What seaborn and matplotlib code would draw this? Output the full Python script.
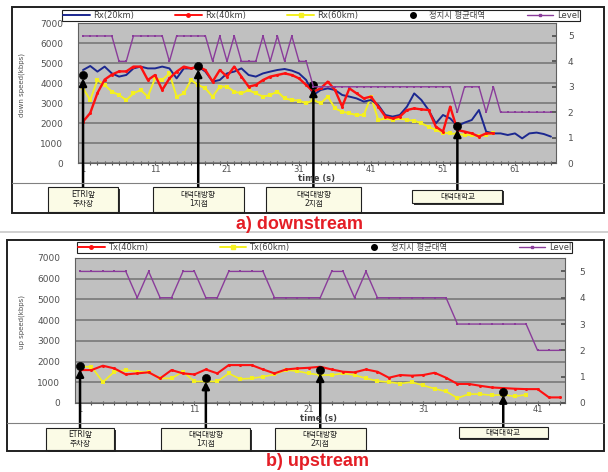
import matplotlib
matplotlib.use("Agg")
import matplotlib.pyplot as plt
import seaborn as sns
import pandas as pd
from matplotlib.patches import Rectangle
from matplotlib.lines import Line2D

# ---------------- downstream (kbps) ----------------
rx20 = [4650, 4850, 4570, 4820, 4480, 4320, 4400, 4730, 4820, 4730, 4730, 4820,
        4730, 4230, 4730, 4730, 4820, 4570, 4070, 4150, 4480, 4570, 4730, 4400,
        4320, 4480, 4570, 4650, 4700, 4620, 4480, 4150,
        3400, 3650, 3730, 3650, 3400, 3320, 3230, 3070, 3150, 2900, 2400, 2320,
        2400, 2820, 3480, 3150, 2650, 1980, 2400, 2230, 1850, 2020, 2150, 2650,
        1570, 1480, 1480, 1400, 1480, 1230, 1480, 1520, 1450, 1320]
rx40 = [2070, 2500, 3500, 4170, 4420, 4580, 4580, 4820, 4820, 4150, 4400, 3650,
        4230, 4570, 4820, 4730, 4820, 4650, 4070, 4650, 4320, 4820, 4320, 3820,
        3900, 4150, 4320, 4400, 4480, 4400, 4230, 3900,
        3570, 3730, 4070, 3650, 2820, 3730, 3480, 3230, 3320, 2820, 2320, 2230,
        2320, 2650, 2730, 2680, 2650, 1820, 1570, 2820, 1650, 1570, 1480, 1320,
        1480, 1480]
rx60 = [3730, 3150, 4150, 3900, 3570, 3400, 3150, 3480, 3650, 3320, 4230, 4150,
        4480, 3320, 3480, 4150, 3900, 3730, 3320, 3820, 3820, 3570, 3480, 3650,
        3480, 3320, 3400, 3570, 3230, 3150, 3120, 2980,
        3150, 2980, 3320, 2730, 2570, 2480, 2400, 2400, 3320, 2150, 2230, 2150,
        2230, 2150, 2120, 1980, 1820, 1650, 1520, 1480, 1450, 1400, 1400, 1350,
        1400, 1480]
level_down = [5, 5, 5, 5, 5, 4, 4, 5, 5, 5, 5, 5, 4, 5, 5, 5, 5, 5, 4, 5, 4, 5,
              4, 4, 4, 5, 4, 5, 4, 5, 4, 4] + [3] * 20 + [2, 3, 3, 3, 2, 3] + [2] * 8
stop_t_down = [1, 17, 33, 53]
stop_v_down = [4400, 4850, 3900, 1850]

# ---------------- upstream (kbps) ----------------
tx40 = [1590, 1590, 1800, 1670, 1380, 1430, 1480, 1190, 1590, 1430, 1380, 1620,
        1430, 1830, 1830, 1830, 1620, 1430, 1620, 1670, 1700,
        1750, 1620, 1510, 1480, 1620, 1510, 1220, 1350, 1320, 1350, 1460, 1220,
        920, 920, 830, 750, 720, 690, 670, 670, 270, 270]
tx60 = [1750, 1750, 1010, 1510, 1590, 1510, 1480, 1190, 1190, 1510, 1040, 1040,
        1040, 1430, 1160, 1190, 1270, 1380, 1590, 1540, 1430,
        1350, 1350, 1430, 1350, 1190, 1060, 1010, 940, 1010, 850, 690, 560,
        240, 430, 430, 370, 400, 320, 400]
level_up = [5, 5, 5, 5, 5, 4, 5, 4, 4, 5, 5, 4, 4, 5, 5, 5, 5, 4, 4, 4, 4, 4,
            5, 5, 4, 5] + [4] * 7 + [3] * 7 + [2] * 3
stop_t_up = [1, 12, 22, 38]
stop_v_up = [1800, 1200, 1600, 550]

stop_names = ["ETRI앞\n주차장", "대덕대방향\n1지점", "대덕대방향\n2지점", "대덕대학교"]
stop_label = "정지시 평균대역"

sns.set_theme(style="white")
plt.rcParams["font.family"] = ["DejaVu Sans", "Noto Sans CJK KR"]

W, H = 608, 472
fig = plt.figure(figsize=(W / 100, H / 100), dpi=100)


def fx(px):
    return px / W


def fy(py):
    return 1 - py / H


TICK_C = "#505050"
C20, C40, C60, CLV = "#1c2890", "#ff1010", "#f4f020", "#8a3c9a"


def setup_axes(ax, ax2, n_cat, xlim, xticks, pad_l, pad_r):
    ax.set_facecolor("#c0c0c0")
    ax.set_xlim(*xlim)
    ax.set_ylim(0, 7000)
    ax.set_yticks(range(0, 7001, 1000))
    ax.yaxis.grid(True, color="#787878", lw=1.2)
    ax.xaxis.grid(False)
    ax.set_axisbelow(True)
    ax.set_xticks(xticks)
    ax.set_xticks(range(1, n_cat + 1), minor=True)
    ax.tick_params(axis="y", length=0, pad=pad_l, labelsize=6.5, labelcolor=TICK_C)
    ax.tick_params(axis="x", which="both", direction="inout", length=2.5,
                   color="#505050", width=0.8, pad=0.5, labelsize=6,
                   labelcolor=TICK_C, bottom=True)
    for s in ax.spines.values():
        s.set_color("#606060")
        s.set_linewidth(0.8)
    ax.set_xlabel("")
    ax.set_ylabel("")
    ax2.set_ylim(0, 5.51)
    ax2.set_yticks(range(0, 6))
    ax2.tick_params(axis="y", direction="in", length=3, color="#505050",
                    pad=pad_r, labelsize=6.5, labelcolor=TICK_C)
    ax2.grid(False)
    for s in ax2.spines.values():
        s.set_visible(False)
    ax2.set_ylabel("")


def draw_stops(ax, ts, vs, widths, tops, heights):
    sns.scatterplot(x=ts, y=vs, ax=ax, color="black", s=34, marker="o",
                    edgecolor="black", zorder=6, legend=False)
    for t, v, name, w, top, h in zip(ts, vs, stop_names, widths, tops, heights):
        cx = ax.transData.transform((t, v))[0]
        ax.annotate("", xy=(t, v), xytext=(t, fy(top)),
                    textcoords=("data", "figure fraction"),
                    arrowprops=dict(arrowstyle="-|>,head_length=0.35,head_width=0.18",
                                    color="black", lw=1.8, shrinkA=0, shrinkB=2.5),
                    annotation_clip=False)
        fig.add_artist(Rectangle((fx(cx - w / 2 + 1.5), fy(top + h + 1.5)), w / W, h / H,
                                 transform=fig.transFigure, facecolor="#303030",
                                 edgecolor="none"))
        fig.add_artist(Rectangle((fx(cx - w / 2), fy(top + h)), w / W, h / H,
                                 transform=fig.transFigure, facecolor="#fbfbe6",
                                 edgecolor="#202020", lw=0.8))
        fig.text(fx(cx), fy(top + h / 2), name, ha="center", va="center",
                 fontsize=5.5, linespacing=1.0, color="#202020")


def frame(x0, y0, x1, y1, sep):
    fig.add_artist(Rectangle((fx(x0), fy(y1)), (x1 - x0) / W, (y1 - y0) / H,
                             transform=fig.transFigure, fill=False,
                             edgecolor="#202020", lw=1.4))
    fig.add_artist(Line2D([fx(x0), fx(x1)], [fy(sep), fy(sep)],
                          transform=fig.transFigure, color="#808080", lw=0.8))


# ---------------- panel a) downstream ----------------
ax_t = fig.add_axes([fx(78), fy(163), 478 / W, 140 / H])
ax_t2 = ax_t.twinx()
df_d = pd.DataFrame({"t": range(1, len(rx20) + 1), "rx20": rx20})
df_d40 = pd.DataFrame({"t": range(1, len(rx40) + 1), "rx40": rx40, "rx60": rx60})
df_lv = pd.DataFrame({"t": range(1, len(level_down) + 1), "level": level_down})

sns.lineplot(data=df_d40, x="t", y="rx60", ax=ax_t, color=C60, lw=1.4,
             marker="s", markersize=2.2, markeredgewidth=0, legend=False)
sns.lineplot(data=df_d, x="t", y="rx20", ax=ax_t, color=C20, lw=1.4, legend=False)
sns.lineplot(data=df_d40, x="t", y="rx40", ax=ax_t, color=C40, lw=1.7,
             marker="o", markersize=2.2, markeredgewidth=0, legend=False)
sns.lineplot(data=df_lv, x="t", y="level", ax=ax_t2, color=CLV, lw=1.0,
             marker="s", markersize=1.6, markeredgewidth=0, legend=False)
setup_axes(ax_t, ax_t2, 66, (0.3, 66.7), [1, 11, 21, 31, 41, 51, 61], 10.5, 8.5)

draw_stops(ax_t, stop_t_down, stop_v_down, [70, 91, 95, 90], [187, 187, 187, 190],
           [25, 25, 25, 13])
frame(12, 7, 604, 213, 183)

fig.text(fx(22), fy(85), "down speed(kbps)", rotation=90, ha="center", va="center",
         fontsize=5, color=TICK_C)
fig.text(fx(316), fy(178.5), "time (s)", ha="center", va="center", fontsize=6,
         fontweight="bold", color="#404040")

h_down = [Line2D([], [], color=C20, lw=1.4),
          Line2D([], [], color=C40, lw=1.4, marker="o", markersize=2.5),
          Line2D([], [], color=C60, lw=1.4, marker="s", markersize=2.5),
          Line2D([], [], color="black", ls="none", marker="o", markersize=4),
          Line2D([], [], color=CLV, lw=1.0, marker="s", markersize=1.8)]
leg = fig.legend(h_down, ["Rx(20km)", "Rx(40km)", "Rx(60km)", stop_label, "Level"],
                 loc="center", bbox_to_anchor=(fx(62), fy(20), (580 - 62) / W, 9 / H),
                 mode="expand", ncol=5, fontsize=6, frameon=True, fancybox=False,
                 edgecolor="#202020", borderpad=0.12, handlelength=3.2,
                 handletextpad=0.4, borderaxespad=0, framealpha=1)
leg.get_frame().set_linewidth(0.8)
for tx in leg.get_texts():
    tx.set_color("#404040")

fig.text(fx(300), fy(225), "a) downstream", ha="center", va="center", fontsize=13,
         fontweight="bold", color="#e41e26", family=["Liberation Sans", "DejaVu Sans"])
fig.add_artist(Line2D([0, 1], [fy(232), fy(232)], transform=fig.transFigure,
                      color="#c8c8c8", lw=1.2))

# ---------------- panel b) upstream ----------------
ax_b = fig.add_axes([fx(75), fy(403), 490 / W, 145 / H])
ax_b2 = ax_b.twinx()
df_u40 = pd.DataFrame({"t": range(1, len(tx40) + 1), "tx40": tx40})
df_u60 = pd.DataFrame({"t": range(1, len(tx60) + 1), "tx60": tx60})
df_lu = pd.DataFrame({"t": range(1, len(level_up) + 1), "level": level_up})

sns.lineplot(data=df_u60, x="t", y="tx60", ax=ax_b, color=C60, lw=1.2,
             marker="s", markersize=2.4, markeredgewidth=0, legend=False)
sns.lineplot(data=df_u40, x="t", y="tx40", ax=ax_b, color=C40, lw=1.5,
             marker="o", markersize=2.2, markeredgewidth=0, legend=False)
sns.lineplot(data=df_lu, x="t", y="level", ax=ax_b2, color=CLV, lw=1.0,
             marker="s", markersize=1.8, markeredgewidth=0, legend=False)
setup_axes(ax_b, ax_b2, 43, (0.56, 43.4), [1, 11, 21, 31, 41], 10.5, 10.5)

draw_stops(ax_b, stop_t_up, stop_v_up, [68, 89, 91, 89], [428, 428, 428, 427],
           [22, 22, 22, 11])
frame(7, 240, 604, 451, 423)

fig.text(fx(22), fy(322), "up speed(kbps)", rotation=90, ha="center", va="center",
         fontsize=5, color=TICK_C)
fig.text(fx(318), fy(418.5), "time (s)", ha="center", va="center", fontsize=6,
         fontweight="bold", color="#404040")

h_up = [Line2D([], [], color=C40, lw=1.4, marker="o", markersize=2.5),
        Line2D([], [], color=C60, lw=1.4, marker="s", markersize=2.5),
        Line2D([], [], color="black", ls="none", marker="o", markersize=4),
        Line2D([], [], color=CLV, lw=1.0, marker="s", markersize=1.8)]
leg2 = fig.legend(h_up, ["Tx(40km)", "Tx(60km)", stop_label, "Level"],
                  loc="center", bbox_to_anchor=(fx(77), fy(252), (572 - 77) / W, 9 / H),
                  mode="expand", ncol=4, fontsize=6, frameon=True, fancybox=False,
                  edgecolor="#202020", borderpad=0.12, handlelength=3.2,
                  handletextpad=0.4, borderaxespad=0, framealpha=1)
leg2.get_frame().set_linewidth(0.8)
for tx in leg2.get_texts():
    tx.set_color("#404040")

fig.text(fx(318), fy(461), "b) upstream", ha="center", va="center", fontsize=13,
         fontweight="bold", color="#e41e26", family=["Liberation Sans", "DejaVu Sans"])

fig.savefig("out.png", dpi=100, facecolor="white")
